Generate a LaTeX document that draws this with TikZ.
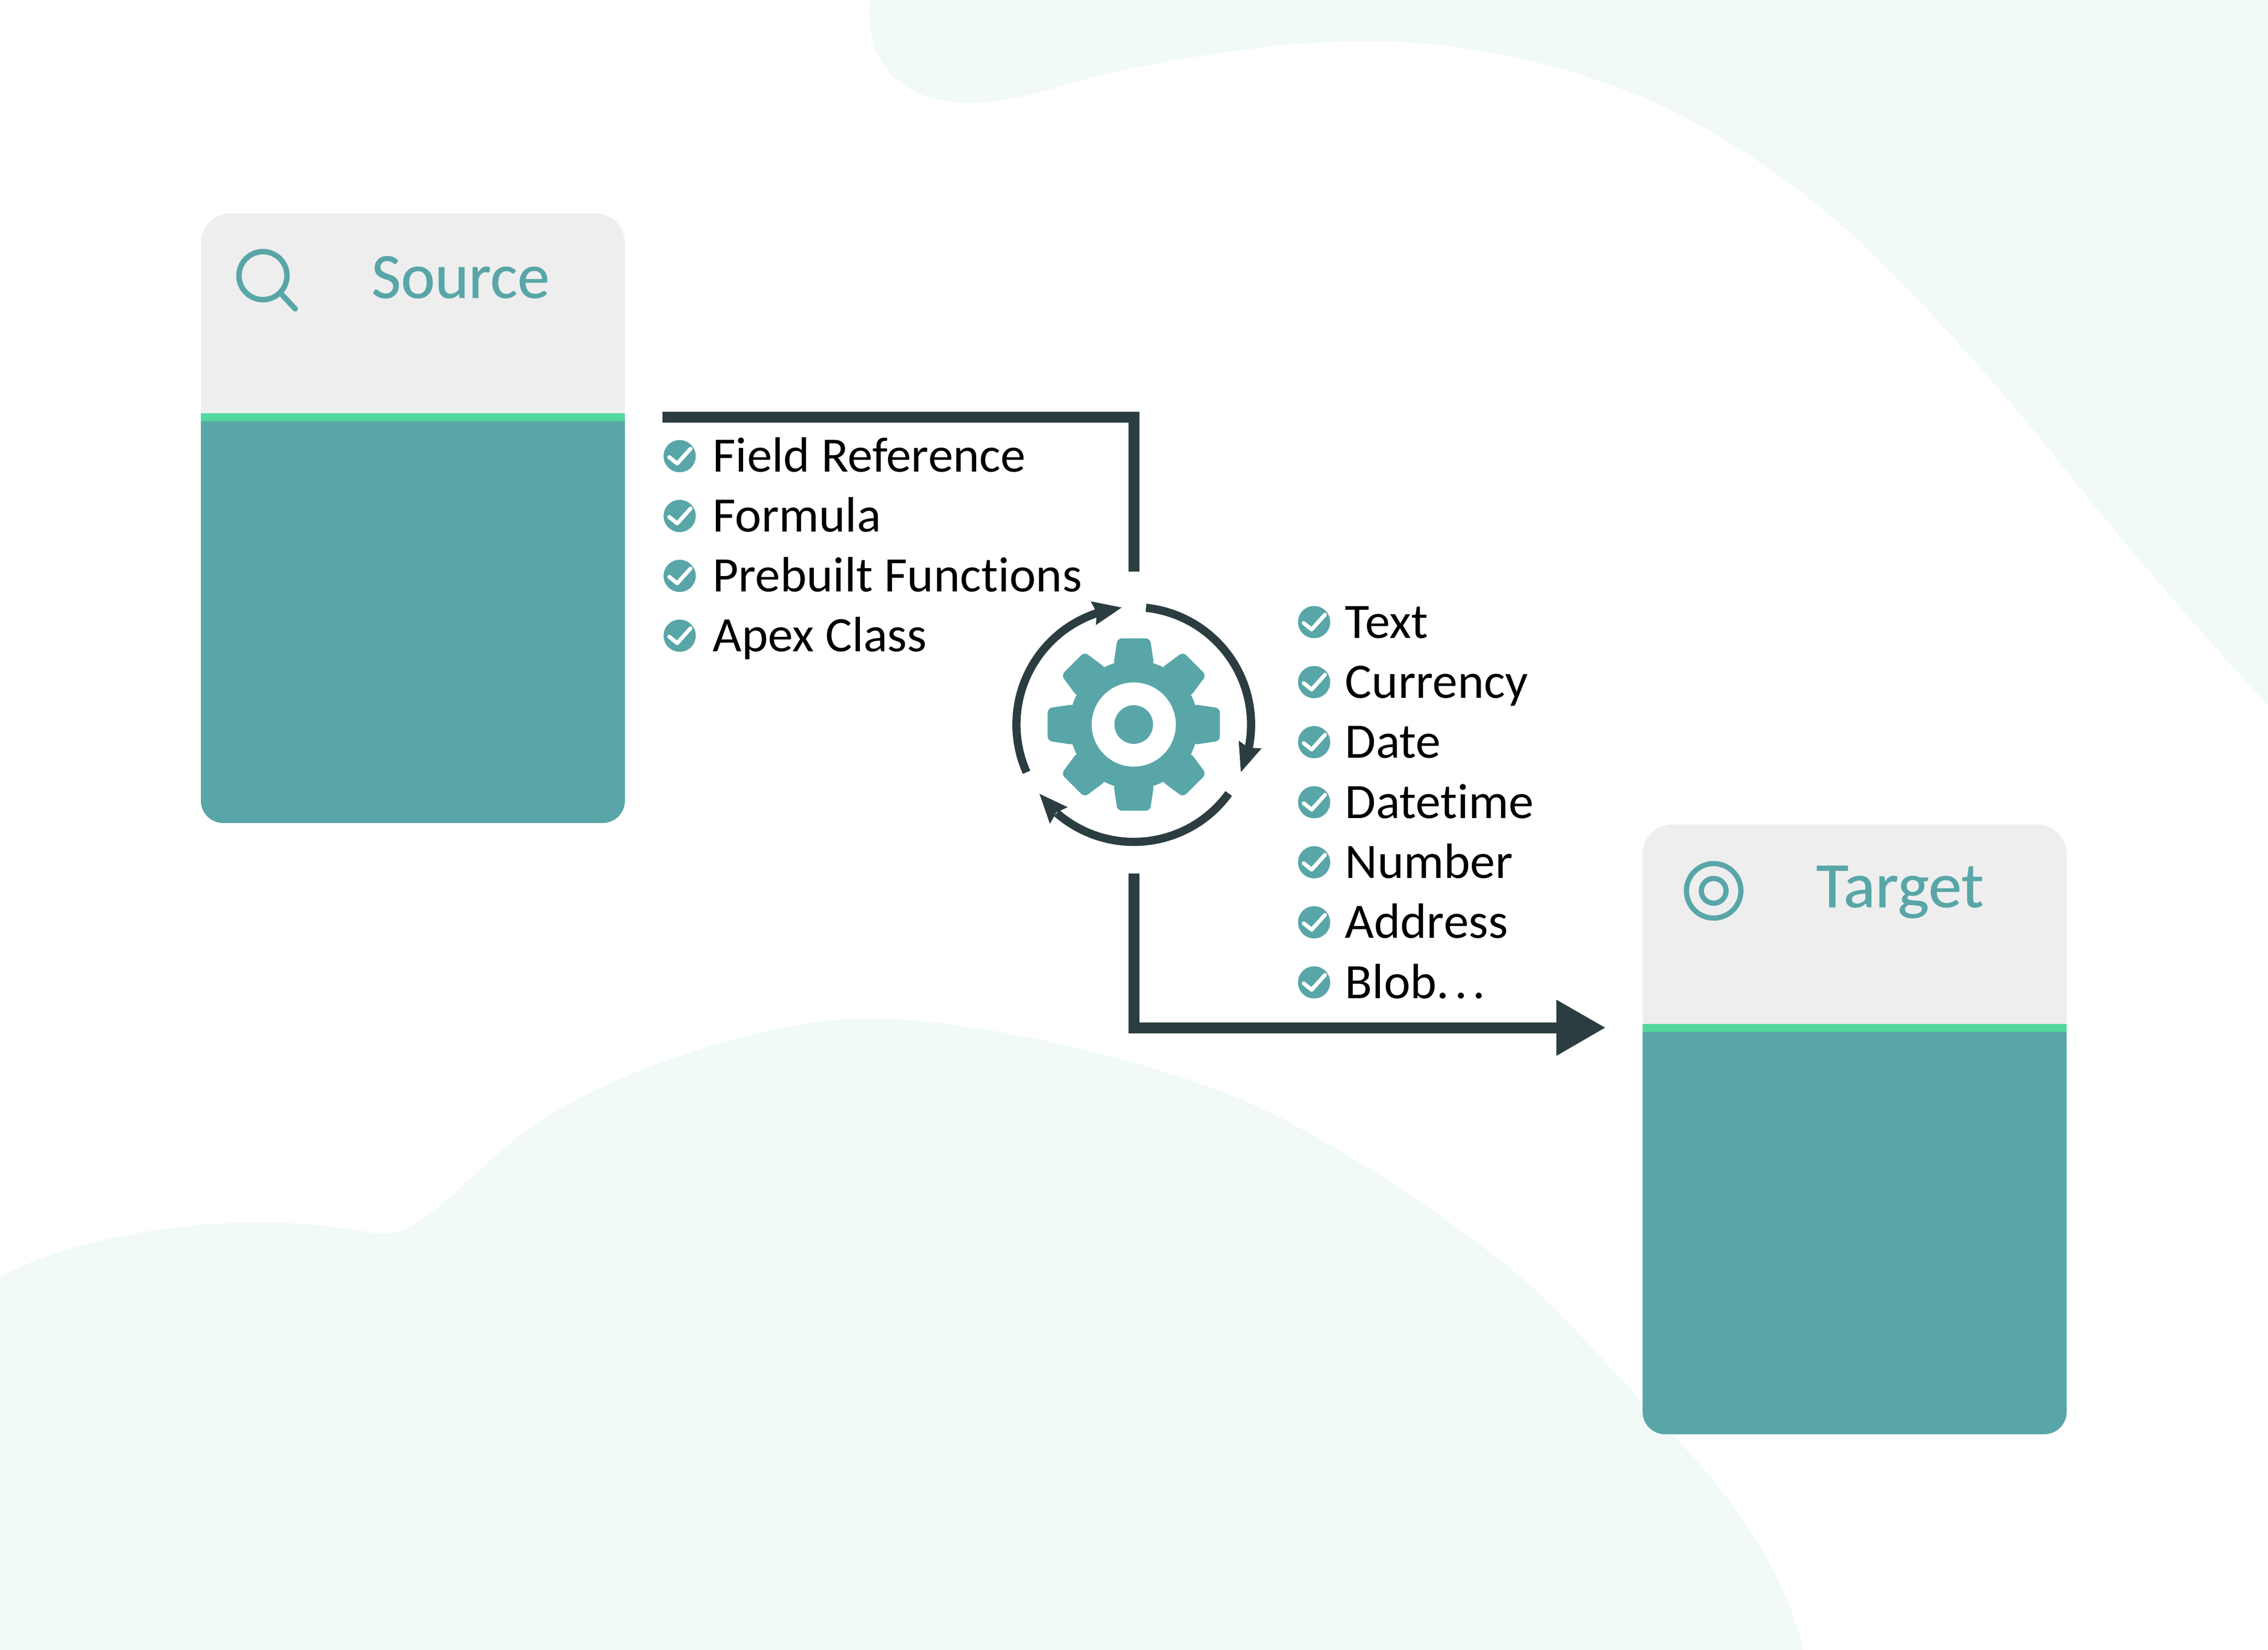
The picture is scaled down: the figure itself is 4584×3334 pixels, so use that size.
\documentclass[tikz,border=0pt]{standalone}
\usepackage{graphicx}
\usepackage{fontspec}
\setmainfont{Carlito}[Ligatures=NoCommon]
\newfontfamily\titlefont{Carlito}[Ligatures=NoCommon,FakeBold=0.5]
\usetikzlibrary{calc}
\definecolor{teal1}{HTML}{58A6A8}
\definecolor{graybg}{HTML}{EEEEEE}
\definecolor{greenbar}{HTML}{52D89E}
\definecolor{dark}{HTML}{2B3D40}
\definecolor{blob}{HTML}{F1FAF6}
\tikzset{
  itemtext/.style={anchor=base west,inner sep=0pt,text=black,font=\fontsize{28.5pt}{30pt}\selectfont},
  titletext/.style={anchor=base west,inner sep=0pt,text=teal1,font=\titlefont\fontsize{37pt}{40pt}\selectfont},
  conn/.style={draw=dark,line width=0.22cm},
  cyc/.style={draw=dark,line width=0.165cm},
  icon/.style={draw=teal1,line width=0.11cm},
}
\newcommand{\cardbox}[4]{% name, x-left, y-top, y-bar
  \fill[teal1,rounded corners=0.45cm] (#2,#4) rectangle (#2+857,#3+1232);
  \fill[teal1] (#2,#4) rectangle (#2+857,#3+1000);
  \fill[graybg,rounded corners=0.6cm] (#2,#3) rectangle (#2+857,#4+50);
  \fill[teal1] (#2,#4) rectangle (#2+857,#4+100);
  \fill[greenbar] (#2,#4) rectangle (#2+857,#4+16);
  \coordinate (#1) at (#2+428,#3);
}
\newcommand{\checkitem}[5]{% name, x, y, text offset, text
  \node[circle,fill=teal1,minimum size=0.65cm,inner sep=0pt] (#1) at (#2,#3) {};
  \draw[white,line width=0.08cm,line cap=round,line join=round]
    ($(#1)+(-21,2)$) -- ($(#1)+(-5,15)$) -- ($(#1)+(22,-15)$);
  \node[itemtext] (#1t) at (#2+#4,#3+32) {\scalebox{1.012}[1]{#5}};
}
\begin{document}
\begin{tikzpicture}[x=0.01cm,y=-0.01cm]
\useasboundingbox (0,0) rectangle (4584,3334);
\fill[white] (0,0) rectangle (4584,3334);
% background blobs
\fill[blob] (1758,0) .. controls (1750,70) and (1770,205) .. (1960,208)
  .. controls (2040,208) and (2100,185) .. (2235,150)
  .. controls (2400,112) and (2600,83) .. (2763,83)
  .. controls (2950,83) and (3130,125) .. (3255,172)
  .. controls (3400,220) and (3570,325) .. (3710,445)
  .. controls (3850,565) and (4040,780) .. (4165,937)
  .. controls (4270,1070) and (4430,1260) .. (4584,1425)
  -- (4584,0) -- cycle;
\fill[blob] (0,2580) .. controls (170,2490) and (480,2440) .. (746,2490)
  .. controls (770,2496) and (800,2495) .. (827,2480)
  .. controls (920,2430) and (1000,2310) .. (1148,2232)
  .. controls (1268,2160) and (1560,2057) .. (1756,2057)
  .. controls (1950,2060) and (2240,2120) .. (2465,2204)
  .. controls (2650,2275) and (2830,2400) .. (2975,2502)
  .. controls (3040,2553) and (3100,2600) .. (3154,2655)
  .. controls (3210,2715) and (3265,2775) .. (3320,2834)
  .. controls (3430,2950) and (3590,3110) .. (3645,3334)
  -- (0,3334) -- cycle;
% cards
\cardbox{source}{406}{431}{835}
\cardbox{target}{3320}{1666}{2069}
\node[titletext] (sourcetitle) at (750,602) {Source};
\node[titletext] (targettitle) at (3670,1833) {\scalebox{1.035}[1]{Target}};
% icons
\node[circle,icon,minimum size=0.97cm,inner sep=0pt] (lens) at (531.5,557) {};
\draw[icon,line cap=round] (lens.-45) -- ++(27,29);
\node[circle,icon,line width=0.105cm,minimum size=1.10cm,inner sep=0pt] (ringout) at (3463.6,1800) {};
\node[circle,icon,line width=0.105cm,minimum size=0.50cm,inner sep=0pt] (ringin) at (3463.6,1800) {};
% connectors
\coordinate (c1a) at (1339,843);
\coordinate (c1b) at (2292,843);
\coordinate (c1c) at (2292,1155);
\draw[conn] (c1a) -- (c1b) -- (c1c);
\coordinate (c2a) at (2292,1765);
\coordinate (c2b) at (2292,2076.5);
\coordinate (c2c) at (3150,2076.5);
\draw[conn] (c2a) -- (c2b) -- (c2c);
\coordinate (tip) at (3244,2076.5);
\fill[dark] (tip) -- (3145.7,2020) -- (3145.7,2133.5) -- cycle;
% gear
\coordinate (gear) at (2291.5,1464);
\fill[teal1] (gear) circle (1.30cm);
\foreach \a in {0,45,...,315}
  \fill[teal1,rounded corners=0.09cm,shift={(gear)},rotate=\a]
    (-0.41cm,-1.20cm) -- (-0.33cm,-1.74cm) -- (0.33cm,-1.74cm) -- (0.41cm,-1.20cm) -- cycle;
\fill[white] (gear) circle (0.85cm);
\fill[teal1] (gear) circle (0.39cm);
% cycle arrows
\draw[cyc] (gear) ++(84:2.37cm) arc (84:-12:2.37cm);
\fill[dark] (2508,1560) -- (2503.5,1496.5) -- (2523.6,1511) -- (2550,1512) -- cycle;
\draw[cyc] (gear) ++(-36:2.37cm) arc (-36:-131:2.37cm);
\fill[dark] (2101,1604) -- (2158,1631) -- (2135,1641.7) -- (2122,1664.5) -- cycle;
\draw[cyc] (gear) ++(204:2.37cm) arc (204:108:2.37cm);
\fill[dark] (2267,1227.6) -- (2204.5,1215) -- (2216.5,1238) -- (2215,1263) -- cycle;
% lists
\checkitem{a1}{1373.7}{921.7}{66}{Field Reference}
\checkitem{a2}{1373.7}{1042.6}{66}{Formula}
\checkitem{a3}{1373.7}{1163.6}{66}{Prebuilt Functions}
\checkitem{a4}{1373.7}{1284.5}{66}{Apex Class}
\checkitem{b1}{2656}{1257}{62}{Text}
\checkitem{b2}{2656}{1378.3}{62}{Currency}
\checkitem{b3}{2656}{1499.6}{62}{Date}
\checkitem{b4}{2656}{1621}{62}{Datetime}
\checkitem{b5}{2656}{1742.3}{62}{Number}
\checkitem{b6}{2656}{1863.6}{62}{Address}
\checkitem{b7}{2656}{1985}{62}{Blob.\kern3pt.\kern3pt.}
\end{tikzpicture}
\end{document}
